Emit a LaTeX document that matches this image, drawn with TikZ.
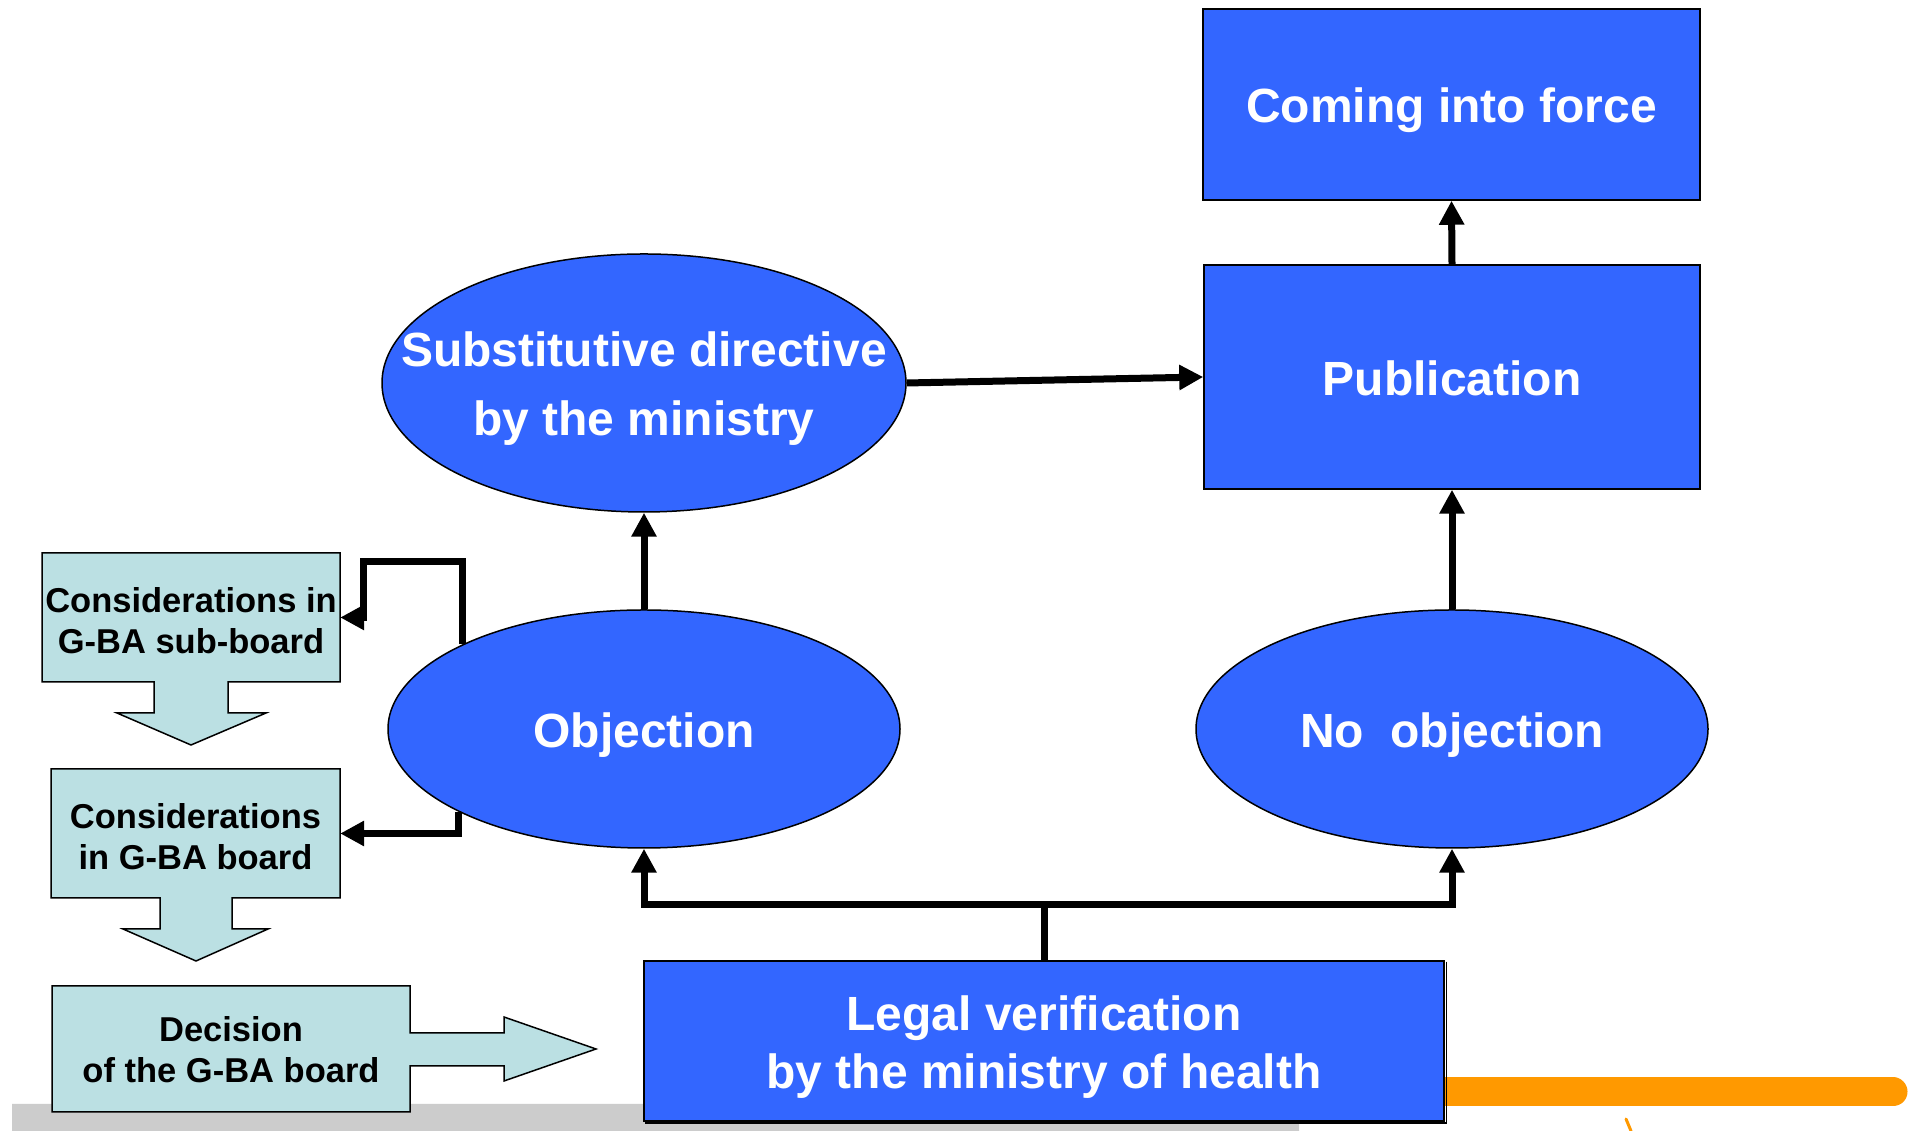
\documentclass[tikz,border=0pt]{standalone}
\usepackage{fontspec}
\setmainfont{Liberation Sans}
\usetikzlibrary{shapes.geometric,arrows.meta}

\begin{document}
\begin{tikzpicture}[x=1pt,y=1pt,
  bluebox/.style={draw=black,line width=1.5pt,fill=boxBlue,inner sep=0pt},
  oval/.style={ellipse,draw=black,line width=1.5pt,fill=boxBlue,inner sep=0pt},
  wtext/.style={text=white,font=\fontsize{48}{58}\selectfont\bfseries,align=center,inner sep=0pt,yshift=-6pt},
  callout/.style={draw=black,line width=1.5pt,fill=calloutFill,line join=miter},
  calltext/.style={font=\fontsize{34.5}{41}\selectfont\bfseries,align=center,inner sep=0pt,yshift=-3.5pt},
  conn/.style={draw=black,line width=7pt,line join=miter},
  arrow/.style={conn,-{Triangle[length=24pt,width=24pt]}}]
\definecolor{fillColor}{RGB}{255,255,255}
\definecolor{boxBlue}{RGB}{51,102,255}
\definecolor{calloutFill}{RGB}{187,224,227}
\definecolor{barGray}{RGB}{204,204,204}
\definecolor{barOrange}{RGB}{255,153,0}
\path[use as bounding box,fill=fillColor] (0,0) rectangle (1927,1131);

% bars at the foot of the slide
\path[fill=barGray] (12,0) -- (12,27) -- (1290,27) to[out=0,in=90] (1299,0) -- cycle;
\path[draw=barOrange,line width=29pt,line cap=round] (1300,39) -- (1893,39);
\path[draw=barOrange,line width=3pt,line cap=round] (1626,12) -- (1631,0);

% callouts on the left
\path[callout] (42,578) -- (340,578) -- (340,449) -- (228,449) -- (228,418) -- (266,418) --
	(191,386) -- (117,418) -- (154,418) -- (154,449) -- (42,449) -- cycle;
\path[callout] (51,362) -- (340,362) -- (340,233) -- (232,233) -- (232,202) -- (268,202) --
	(196,170) -- (123,202) -- (160,202) -- (160,233) -- (51,233) -- cycle;
\path[callout] (52,145) -- (410,145) -- (410,98) -- (504,98) -- (504,114) -- (596,82) --
	(504,50) -- (504,65) -- (410,65) -- (410,19) -- (52,19) -- cycle;

\node[inner sep=0pt,minimum width=298pt,minimum height=129pt] (sub) at (191,513.5) {};
\node[calltext] (subT) at (sub.center) {Considerations in\\G-BA sub-board};
\node[inner sep=0pt,minimum width=289pt,minimum height=129pt] (board) at (195.5,297.5) {};
\node[calltext] (boardT) at (board.center) {Considerations\\in G-BA board};
\node[inner sep=0pt,minimum width=358pt,minimum height=126pt] (decision) at (231,82) {};
\node[calltext,yshift=2.5pt] (decisionT) at (decision.center) {Decision\\of the G-BA board};

% boxes
\node[bluebox,minimum width=497pt,minimum height=191pt] (force) at (1451.5,1026.5) {};
\node[wtext] (forceT) at (force.center) {Coming into force};
\node[bluebox,minimum width=496pt,minimum height=224pt] (pub) at (1452,754) {};
\node[wtext,yshift=5pt] (pubT) at (pub.center) {Publication};
\node[bluebox,minimum width=800pt,minimum height=160pt] (legal) at (1044,90) {};
\path[draw=black,line width=1.5pt] ([xshift=1.5pt,yshift=-1.5pt]legal.north east) |- ([xshift=1.5pt,yshift=-1.5pt]legal.south west);
\node[wtext] (legalT) at (legal.center) {Legal verification\\by the ministry of health};

% ellipses
\node[oval,minimum width=524pt,minimum height=258pt] (subst) at (644,748) {};
\node[wtext,font=\fontsize{48}{69}\selectfont\bfseries] (substT) at (subst.center) {Substitutive directive\\by the ministry};
\node[oval,minimum width=512pt,minimum height=238pt] (obj) at (644,402) {};
\node[wtext] (objT) at (obj.center) {Objection};
\node[oval,minimum width=512pt,minimum height=238pt] (noobj) at (1452,402) {};
\node[wtext] (noobjT) at (noobj.center) {No\ \ objection};

% connectors
\coordinate (bus) at (1044,226);
\coordinate (turn) at (363,569);
\path[conn] (legal.north) -- (bus);
\path[arrow] (bus) -| (obj.south);
\path[arrow] (bus) -| (noobj.south);
\path[arrow] (obj.north) -- (subst.south);
\path[arrow] (noobj.north) -- (pub.south);
\path[arrow] (subst.east) -- (pub.west);
\path[arrow] (pub.north) -- (force.south);
\path[arrow] (obj.155.2) |- (turn) |- (sub.east);
\path[arrow] (obj.204.8) |- (board.east);
\end{tikzpicture}
\end{document}
